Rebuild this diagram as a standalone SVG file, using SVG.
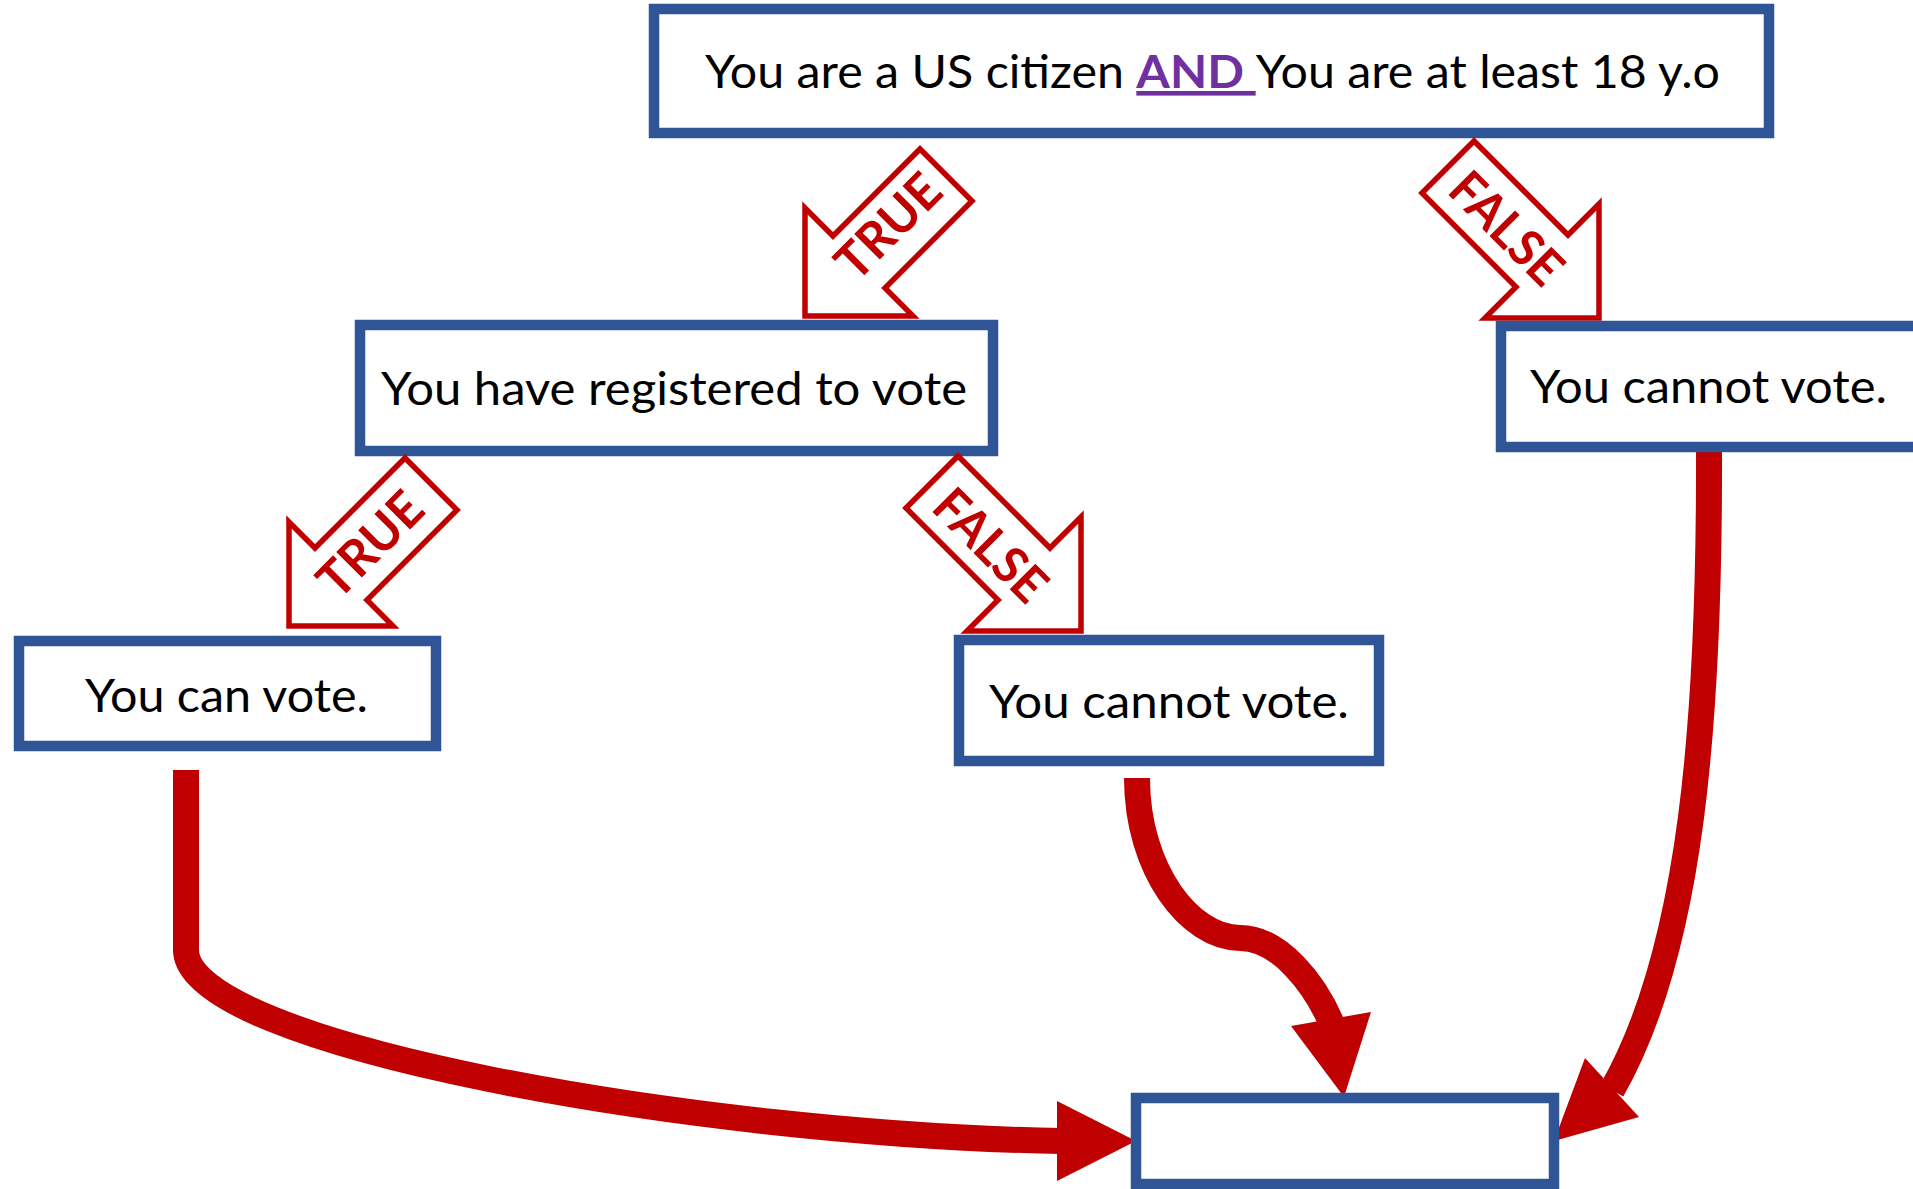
<svg xmlns="http://www.w3.org/2000/svg" width="1913" height="1189" viewBox="0 0 1913 1189">
<style>
.box{fill:#fff;stroke:#2F5597;stroke-width:10.5}
.t{font-family:Lato,"Open Sans","Liberation Sans",sans-serif;font-size:46px;fill:#000}
.blk{fill:#fff;stroke:#C00000;stroke-width:5.5;stroke-linejoin:miter}
.lbl{font-family:Lato,"Open Sans","Liberation Sans",sans-serif;font-size:50px;font-weight:bold;fill:#C00000;text-anchor:middle}
.con{fill:none;stroke:#C00000;stroke-width:26}
.head{fill:#C00000}
</style>
<rect width="1913" height="1189" fill="#fff"/>
<g id="connectors">
  <path class="con" d="M186,770 V950 C186,1045 700,1135 1062,1141"/>
  <polygon class="head" points="1136,1141 1057,1101 1057,1181"/>
  <path class="con" d="M1137,778 C1137,870 1190,938 1240,938 C1280,938 1315,985 1331,1022"/>
  <polygon class="head" points="1344,1097 1291,1026 1371,1012"/>
  <path class="con" d="M1709,446 C1710,720 1692,950 1612,1090"/>
  <polygon class="head" points="1554,1141 1585,1058 1639,1117"/>
</g>
<g id="n1">
  <rect class="box" x="654" y="9" width="1115" height="124"/>
  <text class="t" x="705" y="88" textLength="1015" lengthAdjust="spacingAndGlyphs">You are a US citizen <tspan font-weight="bold" fill="#7030A0" text-decoration="underline">AND </tspan>You are at least 18 y.o</text>
</g>
<g id="a1">
  <path class="blk" d="M805,316 L805,208 L833,236 L920,149 L972,201 L885,288 L913,316 Z"/>
  <text class="lbl" transform="translate(888,226) rotate(-45)" x="0" y="18" textLength="126" lengthAdjust="spacingAndGlyphs">TRUE</text>
</g>
<g id="a2">
  <path class="blk" d="M1599,318 L1599,204 L1568,235 L1474,141 L1422,193 L1516,287 L1485,318 Z"/>
  <text class="lbl" transform="translate(1507,228) rotate(45)" x="0" y="18" textLength="137" lengthAdjust="spacingAndGlyphs">FALSE</text>
</g>
<g id="n2">
  <rect class="box" x="360" y="325" width="633" height="126"/>
  <text class="t" x="381" y="405" textLength="586" lengthAdjust="spacingAndGlyphs">You have registered to vote</text>
</g>
<g id="n3">
  <rect class="box" x="1501" y="326" width="425" height="121"/>
  <text class="t" x="1530" y="403" textLength="357" lengthAdjust="spacingAndGlyphs">You cannot vote.</text>
</g>
<g id="a3">
  <path class="blk" d="M289,626 L289,522 L315,548 L405,458 L457,510 L367,600 L393,626 Z"/>
  <text class="lbl" transform="translate(370,544) rotate(-45)" x="0" y="18" textLength="126" lengthAdjust="spacingAndGlyphs">TRUE</text>
</g>
<g id="a4">
  <path class="blk" d="M1081,631 L1081,517 L1050,548 L958,456 L906,508 L998,600 L967,631 Z"/>
  <text class="lbl" transform="translate(991,545) rotate(45)" x="0" y="18" textLength="137" lengthAdjust="spacingAndGlyphs">FALSE</text>
</g>
<g id="n4">
  <rect class="box" x="19" y="641" width="417" height="105"/>
  <text class="t" x="85" y="712" textLength="283" lengthAdjust="spacingAndGlyphs">You can vote.</text>
</g>
<g id="n5">
  <rect class="box" x="959" y="640" width="420" height="121"/>
  <text class="t" x="989" y="718" textLength="360" lengthAdjust="spacingAndGlyphs">You cannot vote.</text>
</g>
<g id="n6">
  <rect class="box" x="1136" y="1098" width="418" height="86"/>
</g>
</svg>
